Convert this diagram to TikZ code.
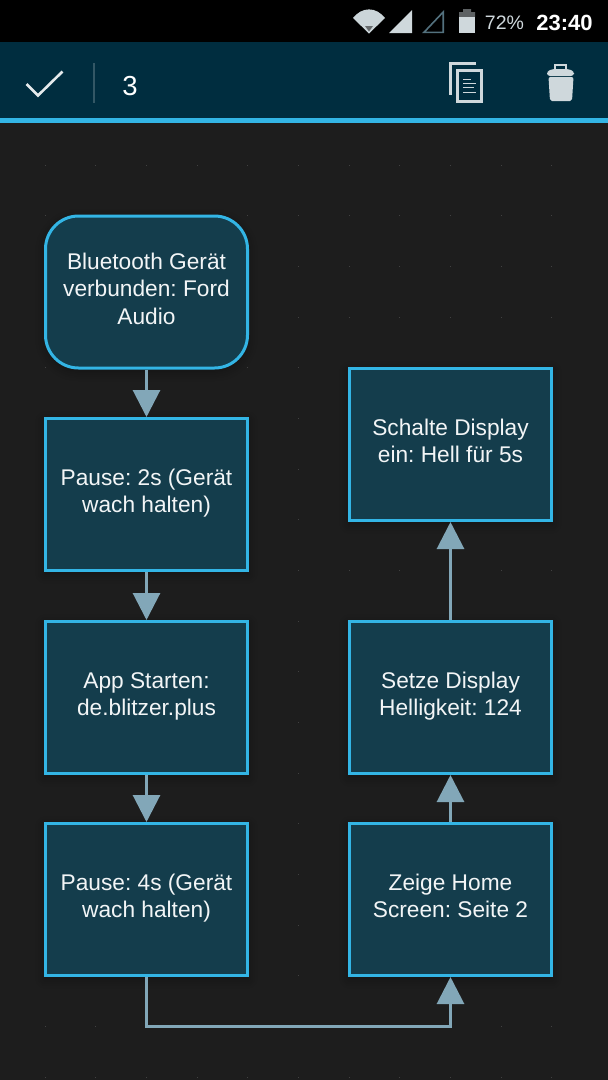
\documentclass[tikz,border=0pt]{standalone}
\usepackage{fontspec}
\setmainfont{Liberation Sans}
\usetikzlibrary{arrows.meta,shadows.blur}
\definecolor{bg}{HTML}{1D1D1D}
\definecolor{bar}{HTML}{002D3F}
\definecolor{accent}{HTML}{33B5E5}
\definecolor{boxfill}{HTML}{143D4C}
\definecolor{conn}{HTML}{82A7B8}
\definecolor{icon}{HTML}{CFD8DC}
\definecolor{txt}{HTML}{F2F5F6}
\tikzset{
  x=1pt,y=-1pt,
  flow/.style={draw=accent,fill=boxfill,line width=3pt,minimum width=202pt,minimum height=152pt,
    align=center,text=txt,inner sep=2pt,font=\frenchspacing\fontsize{22.7}{27.5}\selectfont,anchor=north west,outer sep=1.5pt,
    execute at begin node={\rule{0pt}{28.5pt}},
    execute at end node={\rule[-7pt]{0pt}{1pt}},
    blur shadow={shadow blur steps=8,shadow xshift=0pt,shadow yshift=-3pt,shadow blur radius=10pt,shadow opacity=35}},
  flowround/.style={flow,rounded corners=33pt,execute at begin node={\rule{0pt}{30.5pt}}},
  link/.style={draw=conn,line width=3pt,-{Triangle[width=27pt,length=27pt]}},
  statustxt/.style={text=white,inner sep=0pt,anchor=base}
}
\begin{document}
\begin{tikzpicture}
\useasboundingbox (0,0) rectangle (608,1080);
\fill[bg] (0,0) rectangle (608,1080);
% grid dots
\foreach \gi in {0,...,11}
  \foreach \gj in {0,...,18}
    \fill[white,opacity=.16] ({45+(\gi-1)*50.67-.5},{165+\gj*50.67-.5}) rectangle ++(1,1);
% status and action bars
\fill[black] (0,0) rectangle (608,42);
\fill[bar] (0,42) rectangle (608,118);
\fill[accent] (0,118) rectangle (608,123);
% status icons
\fill[icon!108!white] (353,18) .. controls (362,6.5) and (376,6.5) .. (385,18) -- (369,33.5) -- cycle;
\fill[icon!50!black] (365,26) -- (373,26) -- (369,31.5) -- cycle;
\fill[icon] (389,33) -- (412,10) -- (412,33) -- cycle;
\draw[draw=icon!40!bar,line width=1.6pt] (424,32.3) -- (443.2,12) -- (443.2,32.3) -- cycle;
\fill[icon!45!black] (459,12) -- (463,12) -- (463,9) -- (471,9) -- (471,12) -- (475,12) -- (475,17) -- (459,17) -- cycle;
\fill[icon] (459,17) rectangle (475,33);
\node[statustxt,font=\fontsize{19.5}{19.5}\selectfont,text=icon] (batt) at (504.5,29) {72\%};
\node[statustxt,font=\bfseries\fontsize{22}{22}\selectfont] (clock) at (564.5,30) {23:40};
% action bar
\draw[white!90!bar,line width=2.6pt] (26.5,84) -- (38,95.5) -- (62.5,71.5);
\draw[white!20!bar,line width=1.2pt] (94,63) -- (94,103);
\node[statustxt,font=\fontsize{27.5}{27.5}\selectfont] (count) at (130,95) {3};
% copy icon
\draw[icon,line width=2.6pt] (476,63.5) -- (450.5,63.5) -- (450.5,95);
\draw[icon,line width=3pt,fill=bar] (457.5,70.5) rectangle (481.5,101.5);
\foreach \ya/\xb in {79/471,83/476,87.5/474,92.5/476}
  \draw[icon,line width=1pt] (463,\ya) -- (\xb,\ya);
% trash icon
\fill[icon,rounded corners=2pt] (548.5,77) -- (573.5,77) -- (572,101) -- (550,101) -- cycle;
\fill[icon,rounded corners=3pt] (547,76) -- (547,71) -- (553,69) -- (568,69) -- (574,71) -- (574,76) -- cycle;
\draw[icon,line width=2pt] (555,70) -- (555,64.5) -- (566,64.5) -- (566,70);
% nodes
\node[flowround] (n1) at (44,214.5) {Bluetooth Gerät\\verbunden: Ford\\Audio};
\node[flow] (n2) at (44,417) {Pause: 2s (Gerät\\wach halten)};
\node[flow] (n3) at (44,620) {App Starten:\\de.blitzer.plus};
\node[flow] (n4) at (44,822) {Pause: 4s (Gerät\\wach halten)};
\node[flow] (n5) at (348,822) {Zeige Home\\Screen: Seite 2};
\node[flow] (n6) at (348,620) {Setze Display\\Helligkeit: 124};
\node[flow] (n7) at (348,367) {Schalte Display\\ein: Hell für 5s};
% connectors
\draw[link] (n1) -- (n2);
\draw[link] (n2) -- (n3);
\draw[link] (n3) -- (n4);
\draw[link] (n4.south) -- ++(0,49) -| (n5.south);
\draw[link] (n5) -- (n6);
\draw[link] (n6) -- (n7);
\end{tikzpicture}
\end{document}
